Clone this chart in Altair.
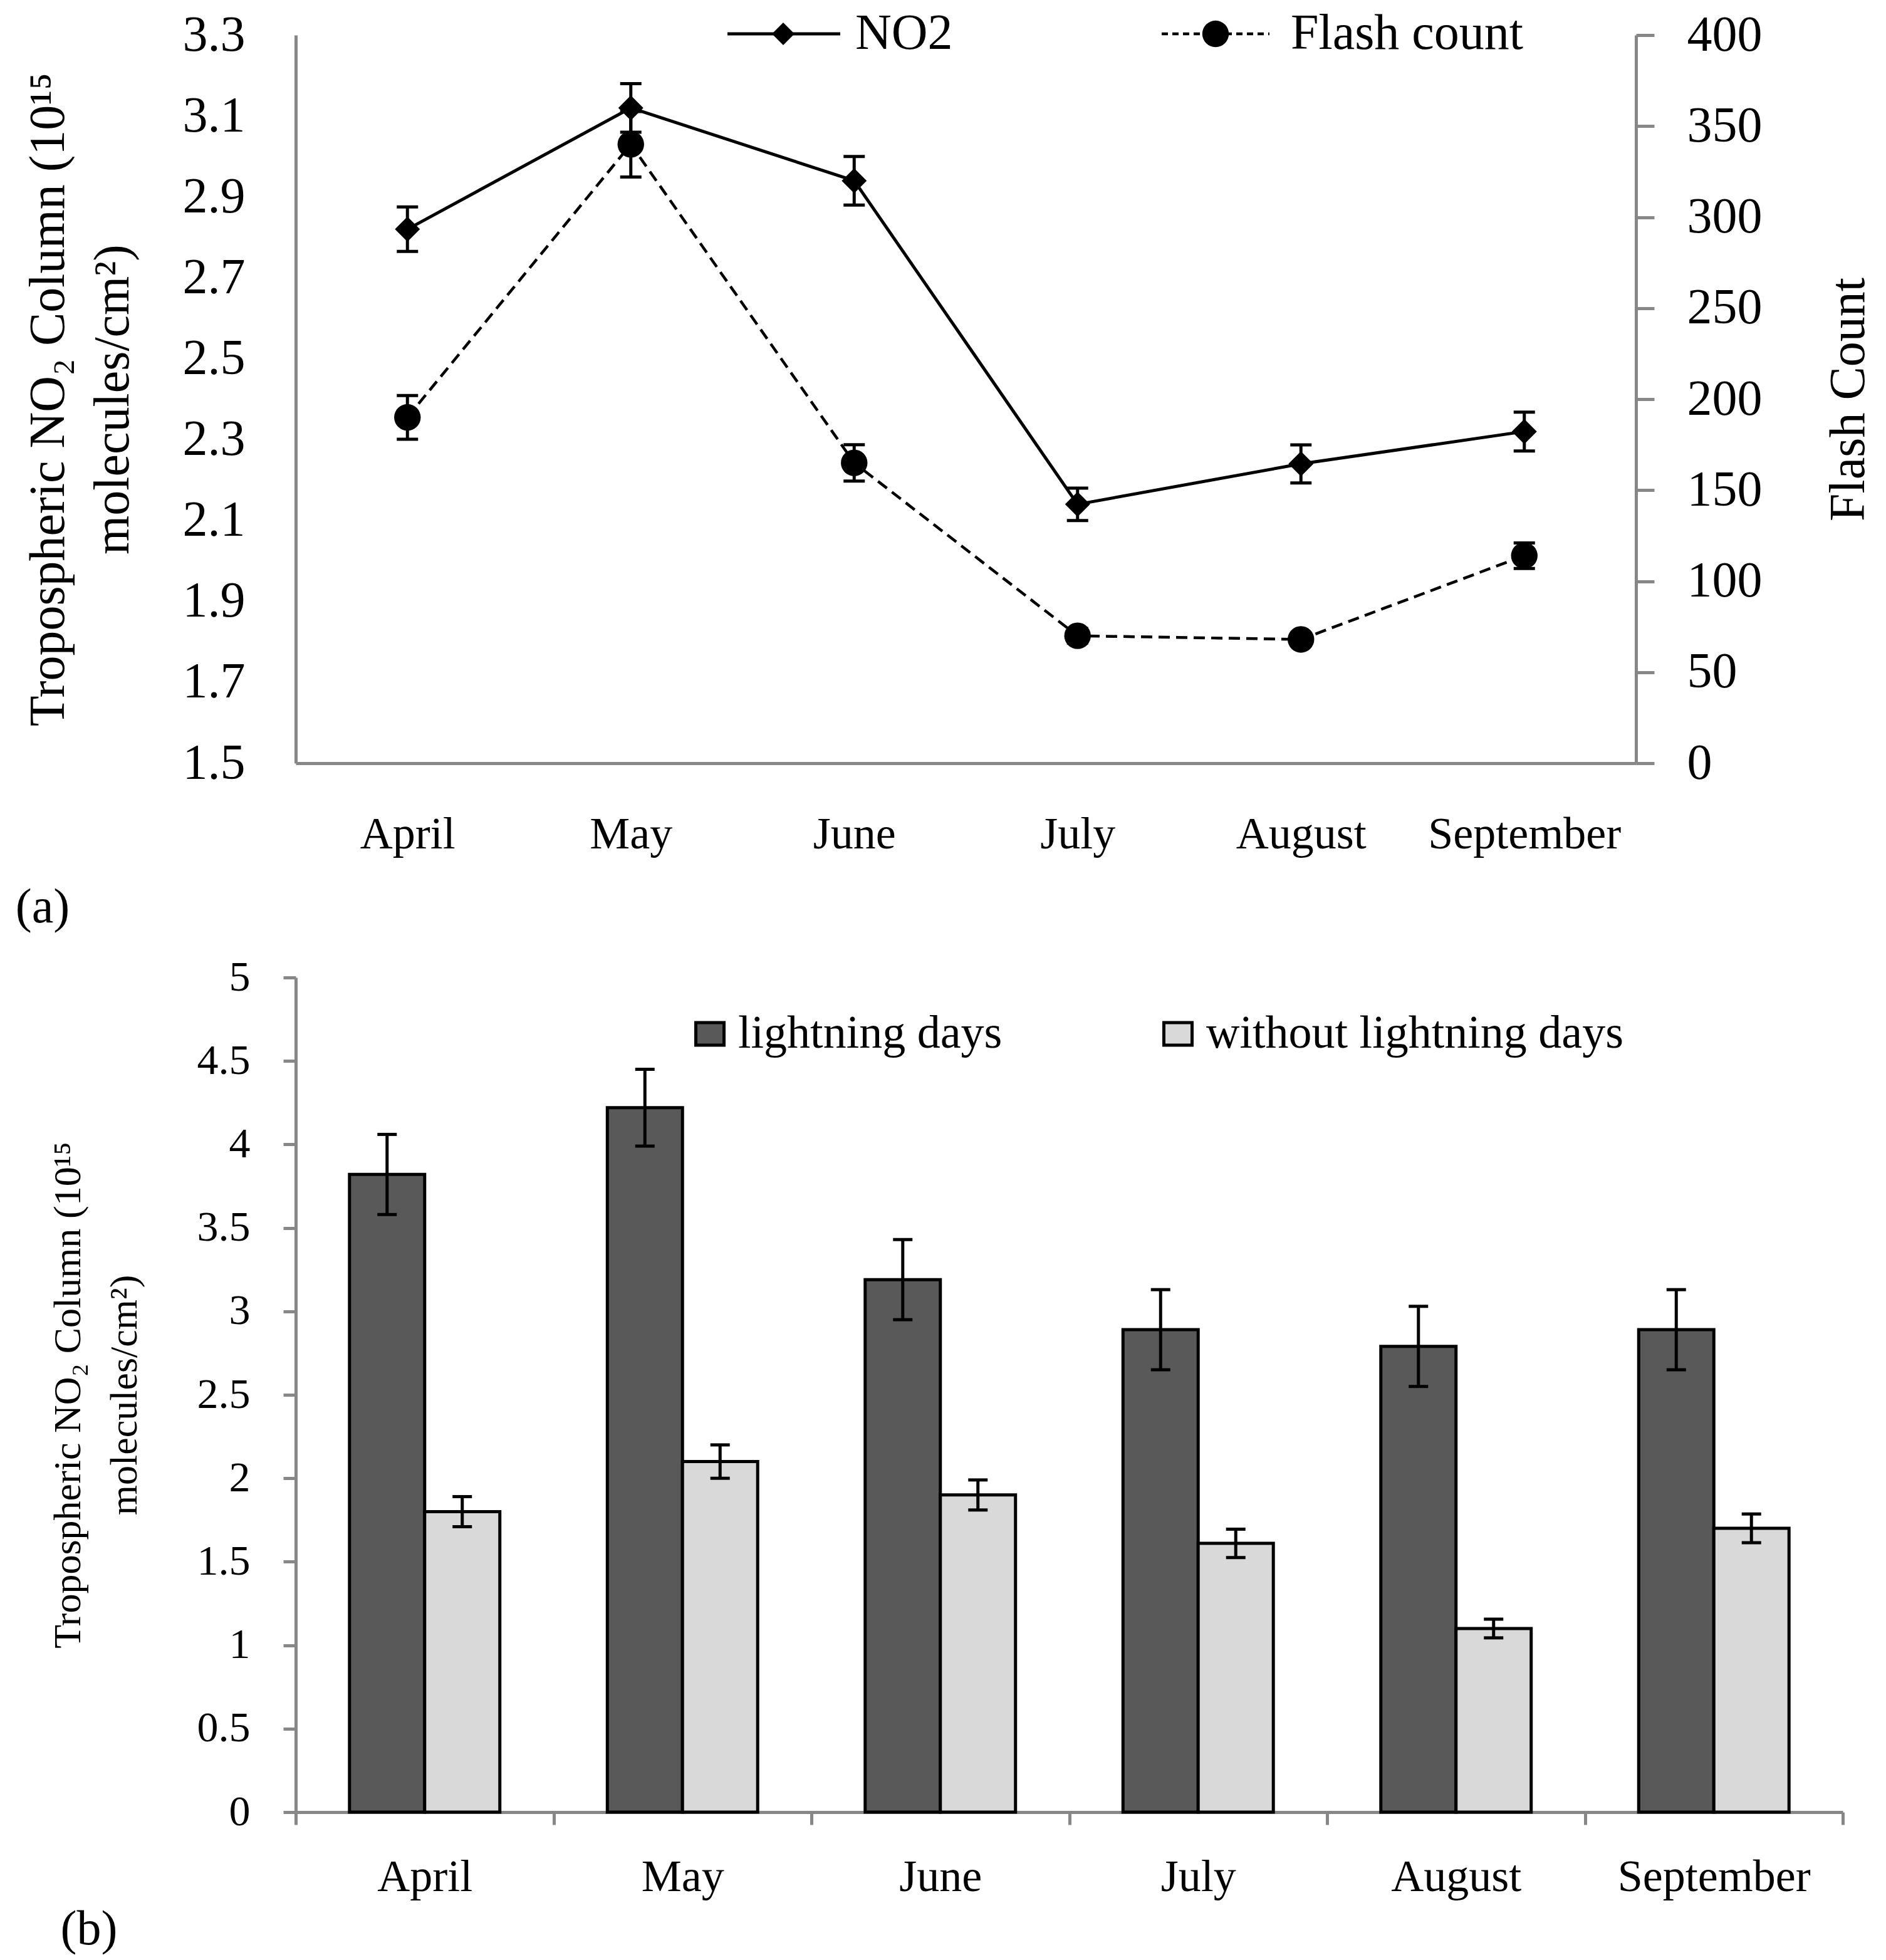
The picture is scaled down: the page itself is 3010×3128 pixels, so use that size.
import altair as alt
import pandas as pd

# ---------------- data ----------------
months = ["April", "May", "June", "July", "August", "September"]

no2 = [2.82, 3.12, 2.94, 2.14, 2.24, 2.32]
no2_err = [0.055, 0.060, 0.060, 0.040, 0.047, 0.048]
flash = [190, 340, 165, 70, 68, 114]
flash_err = [12, 18, 10, 4, 3.5, 7]

series_names = ["lightning days", "without lightning days"]
lightning = [3.82, 4.22, 3.19, 2.89, 2.79, 2.89]
lightning_err = [0.24, 0.23, 0.24, 0.24, 0.24, 0.24]
no_lightning = [1.80, 2.10, 1.90, 1.61, 1.10, 1.70]
no_lightning_err = [0.09, 0.10, 0.09, 0.085, 0.056, 0.086]

no2_ticks = [1.5, 1.7, 1.9, 2.1, 2.3, 2.5, 2.7, 2.9, 3.1, 3.3]
flash_ticks = [0, 50, 100, 150, 200, 250, 300, 350, 400]
bar_ticks = [0, 0.5, 1, 1.5, 2, 2.5, 3, 3.5, 4, 4.5, 5]

# ---------------- styles ----------------
FONT = "Liberation Serif"
GRAY = "#878787"
DARK = "#595959"
LIGHT = "#d9d9d9"

df_top = pd.DataFrame({
    "month": months,
    "no2": no2,
    "no2_lo": [v - e for v, e in zip(no2, no2_err)],
    "no2_hi": [v + e for v, e in zip(no2, no2_err)],
    "flash": flash,
    "flash_lo": [v - e for v, e in zip(flash, flash_err)],
    "flash_hi": [v + e for v, e in zip(flash, flash_err)],
})

rows = []
for i, m in enumerate(months):
    rows.append({"month": m, "series": series_names[0], "value": lightning[i],
                 "lo": lightning[i] - lightning_err[i], "hi": lightning[i] + lightning_err[i]})
    rows.append({"month": m, "series": series_names[1], "value": no_lightning[i],
                 "lo": no_lightning[i] - no_lightning_err[i], "hi": no_lightning[i] + no_lightning_err[i]})
df_bot = pd.DataFrame(rows)

# ---------------- top panel (a) ----------------
TOP_W, TOP_H = 2139, 1162

xt = alt.X("month:N", sort=months,
           scale=alt.Scale(type="point", padding=0.5, domain=months),
           axis=alt.Axis(title=None, ticks=False, labelAngle=0, labelFontSize=72,
                         labelPadding=78))

yl_scale = alt.Scale(domain=[1.5, 3.3], nice=False, zero=False)
yl_axis = alt.Axis(title=["Tropospheric NO\u2082 Column (10\u00b9\u2075", "molecules/cm\u00b2)"],
                   values=no2_ticks, format=".1f", ticks=False, labelPadding=81,
                   labelFontSize=80, titleFontSize=80, titleLineHeight=103,
                   titlePadding=70)

yr_scale = alt.Scale(domain=[0, 400], nice=False, zero=True)
yr_axis = alt.Axis(title="Flash Count", orient="right", values=flash_ticks,
                   tickSize=29, labelPadding=52, labelFontSize=80,
                   titleFontSize=80, titleAngle=270, titleBaseline="top",
                   titlePadding=100)

LW = 5
bt = alt.Chart(df_top)

no2_line = bt.mark_line(color="black", strokeWidth=LW).encode(
    x=xt, y=alt.Y("no2:Q", scale=yl_scale, axis=yl_axis))
no2_rule = bt.mark_rule(color="black", strokeWidth=LW).encode(
    x=xt, y=alt.Y("no2_lo:Q", scale=yl_scale, axis=yl_axis), y2="no2_hi:Q")
no2_cap_lo = bt.mark_tick(color="black", thickness=LW, size=34, opacity=1).encode(
    x=xt, y=alt.Y("no2_lo:Q", scale=yl_scale, axis=yl_axis))
no2_cap_hi = bt.mark_tick(color="black", thickness=LW, size=34, opacity=1).encode(
    x=xt, y=alt.Y("no2_hi:Q", scale=yl_scale, axis=yl_axis))
no2_pts = bt.mark_point(shape="diamond", filled=True, color="black", size=1600, opacity=1).encode(
    x=xt, y=alt.Y("no2:Q", scale=yl_scale, axis=yl_axis))
left = alt.layer(no2_line, no2_rule, no2_cap_lo, no2_cap_hi, no2_pts)

fl_line = bt.mark_line(color="black", strokeWidth=4.5, strokeDash=[18, 10]).encode(
    x=xt, y=alt.Y("flash:Q", scale=yr_scale, axis=yr_axis))
fl_rule = bt.mark_rule(color="black", strokeWidth=LW).encode(
    x=xt, y=alt.Y("flash_lo:Q", scale=yr_scale, axis=yr_axis), y2="flash_hi:Q")
fl_cap_lo = bt.mark_tick(color="black", thickness=LW, size=34, opacity=1).encode(
    x=xt, y=alt.Y("flash_lo:Q", scale=yr_scale, axis=yr_axis))
fl_cap_hi = bt.mark_tick(color="black", thickness=LW, size=34, opacity=1).encode(
    x=xt, y=alt.Y("flash_hi:Q", scale=yr_scale, axis=yr_axis))
fl_pts = bt.mark_point(shape="circle", filled=True, color="black", size=1800, opacity=1).encode(
    x=xt, y=alt.Y("flash:Q", scale=yr_scale, axis=yr_axis))
right = alt.layer(fl_line, fl_rule, fl_cap_lo, fl_cap_hi, fl_pts)

# manual legend (top)
LEG_Y = -2
one = pd.DataFrame({"k": [0]})
leg_no2_line = alt.Chart(one).mark_rule(color="black", strokeWidth=LW).encode(
    x=alt.value(689), x2=alt.value(869), y=alt.value(LEG_Y))
leg_no2_pt = alt.Chart(one).mark_point(shape="diamond", filled=True, color="black",
                                       size=1300, opacity=1).encode(
    x=alt.value(778), y=alt.value(LEG_Y))
leg_no2_txt = alt.Chart(pd.DataFrame({"t": ["NO2"]})).mark_text(
    font=FONT, fontSize=80, align="left", baseline="middle", color="black").encode(
    text="t:N", x=alt.value(893), y=alt.value(LEG_Y))
leg_fl_line = alt.Chart(one).mark_rule(color="black", strokeWidth=4.5, strokeDash=[10, 7]).encode(
    x=alt.value(1382), x2=alt.value(1554), y=alt.value(LEG_Y))
leg_fl_pt = alt.Chart(one).mark_point(shape="circle", filled=True, color="black",
                                      size=1800, opacity=1).encode(
    x=alt.value(1468), y=alt.value(LEG_Y))
leg_fl_txt = alt.Chart(pd.DataFrame({"t": ["Flash count"]})).mark_text(
    font=FONT, fontSize=80, align="left", baseline="middle", color="black").encode(
    text="t:N", x=alt.value(1588), y=alt.value(LEG_Y))

lab_a = alt.Chart(pd.DataFrame({"t": ["(a)"]})).mark_text(
    font=FONT, fontSize=78, align="center", baseline="middle", color="black").encode(
    text="t:N", x=alt.value(-404), y=alt.value(1393))

top = alt.layer(left, right, leg_no2_line, leg_no2_pt, leg_no2_txt,
                leg_fl_line, leg_fl_pt, leg_fl_txt, lab_a).resolve_scale(
    y="independent").properties(width=TOP_W, height=TOP_H)

# ---------------- bottom panel (b) ----------------
BOT_W, BOT_H = 2469, 1332

xb = alt.X("month:N", sort=months,
           scale=alt.Scale(domain=months, paddingInner=0, paddingOuter=0),
           axis=alt.Axis(title=None, labelAngle=0, tickBand="extent", tickSize=20,
                         labelPadding=48, labelFontSize=72))
xo = alt.XOffset("series:N", sort=series_names,
                 scale=alt.Scale(domain=series_names, paddingInner=0, paddingOuter=0.715))
yb_scale = alt.Scale(domain=[0, 5], nice=False)
yb_axis = alt.Axis(title=["Tropospheric NO\u2082 Column (10\u00b9\u2075", "molecules/cm\u00b2)"],
                   values=bar_ticks, labelExpr="'' + datum.value", tickSize=20,
                   labelPadding=53, labelFontSize=68, titleFontSize=62,
                   titleLineHeight=90, titlePadding=84)

bb = alt.Chart(df_bot)
bars = bb.mark_bar(stroke="black", strokeWidth=5).encode(
    x=xb, xOffset=xo,
    y=alt.Y("value:Q", scale=yb_scale, axis=yb_axis),
    color=alt.Color("series:N", sort=series_names,
                    scale=alt.Scale(domain=series_names, range=[DARK, LIGHT]),
                    legend=alt.Legend(title=None, orient="none", legendX=624, legendY=1557,
                                      direction="horizontal",
                                      symbolType="M-1,-0.8H1V0.8H-1Z", symbolSize=2025,
                                      symbolStrokeColor="black", symbolStrokeWidth=5,
                                      symbolOpacity=1, labelFont=FONT, labelFontSize=74,
                                      labelColor="black", labelOffset=8,
                                      columnPadding=243, padding=0, labelLimit=2000)))
b_rule = bb.mark_rule(color="black", strokeWidth=5).encode(
    x=xb, xOffset=xo, y=alt.Y("lo:Q", scale=yb_scale, axis=yb_axis), y2="hi:Q")
b_cap_lo = bb.mark_tick(color="black", thickness=5, size=31, opacity=1).encode(
    x=xb, xOffset=xo, y=alt.Y("lo:Q", scale=yb_scale, axis=yb_axis))
b_cap_hi = bb.mark_tick(color="black", thickness=5, size=31, opacity=1).encode(
    x=xb, xOffset=xo, y=alt.Y("hi:Q", scale=yb_scale, axis=yb_axis))

lab_b = alt.Chart(pd.DataFrame({"t": ["(b)"]})).mark_text(
    font=FONT, fontSize=78, align="center", baseline="middle", color="black").encode(
    text="t:N", x=alt.value(-330), y=alt.value(1520))

bottom = alt.layer(bars, b_rule, b_cap_lo, b_cap_hi, lab_b).properties(
    width=BOT_W, height=BOT_H)

chart = alt.vconcat(top, bottom, spacing=38).properties(
    padding={"left": 16, "top": 6, "right": 0, "bottom": 0}
).configure_axis(
    labelFont=FONT, titleFont=FONT, labelColor="black", titleColor="black",
    titleFontWeight="normal", domainColor=GRAY, tickColor=GRAY, domainWidth=5,
    tickWidth=5, grid=False, labelLimit=2000
).configure_view(stroke=None)

chart.save("out.html", embed_options={"renderer": "svg", "actions": False})
